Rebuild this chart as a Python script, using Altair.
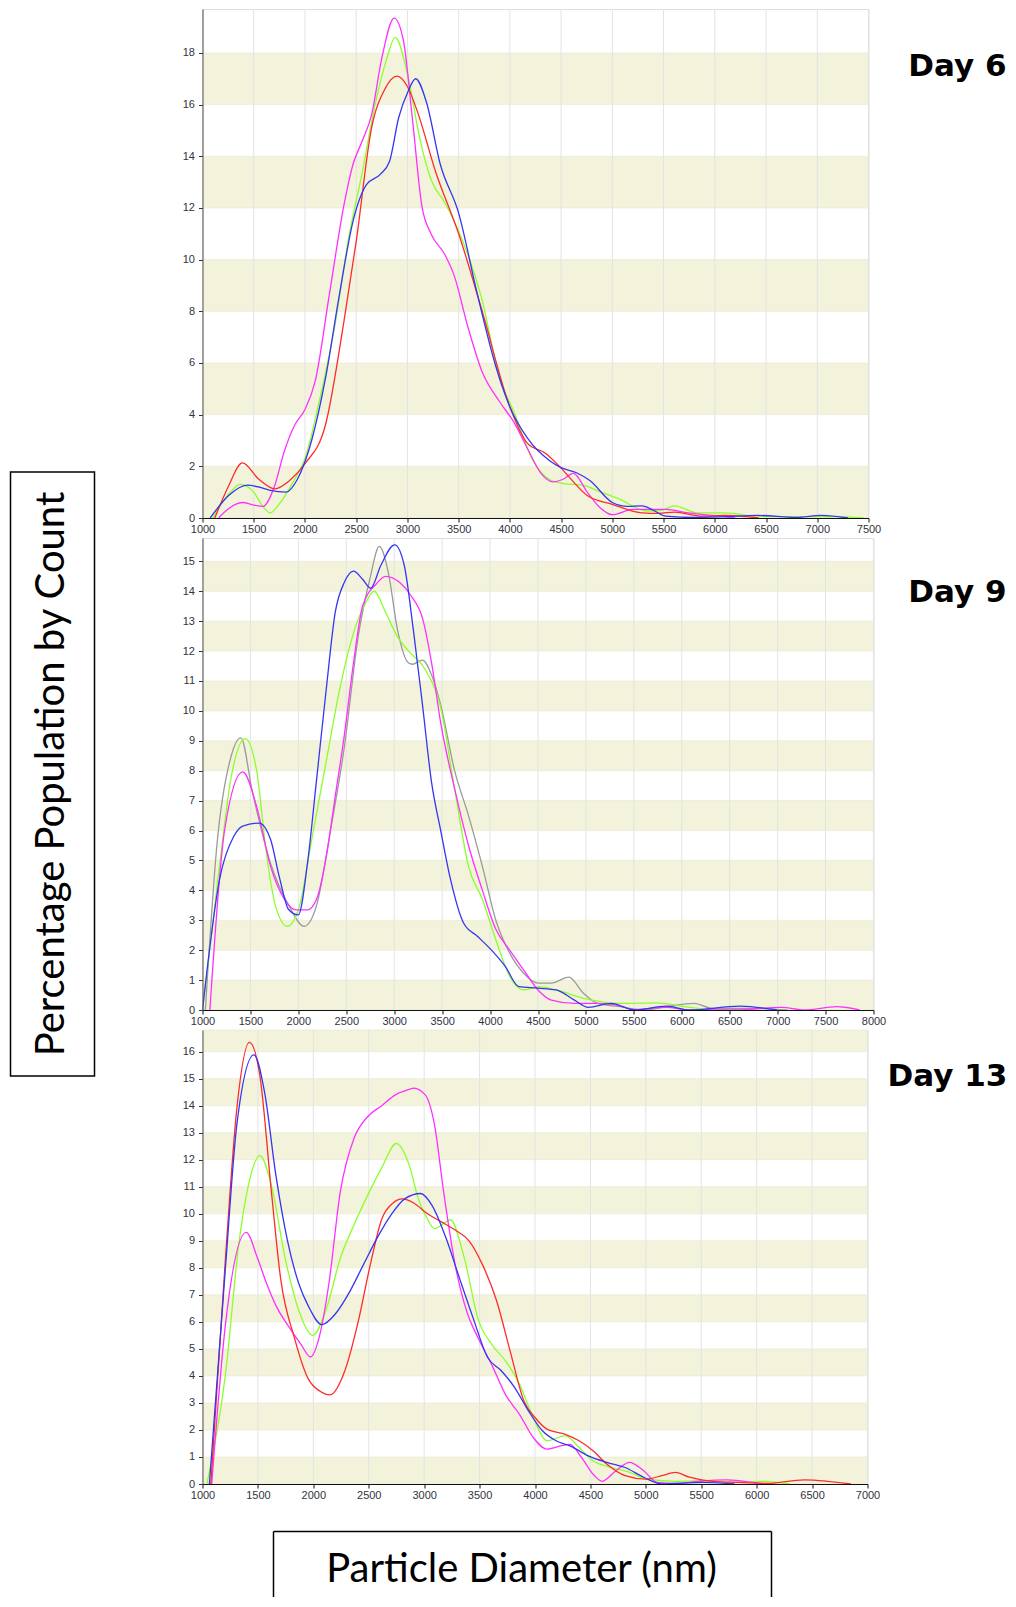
import altair as alt
import pandas as pd

# ---------------- Data ----------------
SERIES_NAMES = ["Green", "Gray", "Magenta", "Red", "Blue"]
SERIES_COLORS = ["#8CFF2A", "#9A9A9A", "#FF30FF", "#FF2A2A", "#3535F5"]

# Day 6
D6_RED_X = [1120, 1250, 1390, 1550, 1705, 1850, 2000, 2200, 2380, 2500, 2650, 2780, 2900, 3000, 3100, 3275, 3500, 3725, 4000, 4170, 4350, 4500, 4620, 4755, 5000, 5290, 5450, 5607, 5877, 6100, 6300, 6430]
D6_RED_Y = [0, 1.2, 2.13, 1.5, 1.13, 1.45, 2.1, 3.6, 7.6, 10.7, 15.1, 16.6, 17.1, 16.7, 15.7, 13.4, 11.0, 8.07, 4.3, 2.9, 2.5, 1.93, 1.4, 0.87, 0.53, 0.2, 0.18, 0.23, 0.07, 0.1, 0.05, 0]
D6_MAG_X = [1157, 1250, 1390, 1500, 1590, 1700, 1800, 1900, 2000, 2100, 2240, 2380, 2470, 2560, 2650, 2750, 2870, 2960, 3050, 3140, 3230, 3365, 3455, 3590, 3725, 3900, 4040, 4170, 4310, 4420, 4520, 4620, 4755, 4880, 5000, 5200, 5520, 5740, 5970, 6200]
D6_MAG_Y = [0, 0.35, 0.6, 0.5, 0.45, 1.2, 2.6, 3.6, 4.2, 5.3, 8.7, 12.1, 13.7, 14.6, 15.6, 17.8, 19.35, 18.5, 15.4, 12.1, 11.0, 10.2, 9.4, 7.4, 5.7, 4.5, 3.7, 2.7, 1.7, 1.4, 1.5, 1.73, 1.0, 0.4, 0.13, 0.33, 0.33, 0.2, 0.1, 0]
D6_GRN_X = [1100, 1250, 1370, 1500, 1580, 1660, 1760, 1885, 2000, 2150, 2290, 2420, 2560, 2690, 2800, 2880, 3005, 3120, 3230, 3365, 3500, 3725, 3900, 4040, 4215, 4395, 4530, 4710, 4890, 5070, 5340, 5480, 5607, 5830, 6100, 6415, 6860, 7180, 7450]
D6_GRN_Y = [0, 0.9, 1.3, 1.0, 0.5, 0.2, 0.6, 1.4, 2.3, 4.7, 7.4, 10.7, 13.4, 16.1, 17.8, 18.6, 17.1, 14.7, 13.1, 12.2, 11.1, 8.5, 5.4, 4.1, 2.3, 1.47, 1.33, 1.27, 1.0, 0.73, 0.27, 0.3, 0.47, 0.2, 0.2, 0.07, 0.05, 0.05, 0]
D6_BLU_X = [1075, 1255, 1435, 1550, 1660, 1815, 1930, 2065, 2200, 2330, 2470, 2600, 2735, 2825, 2915, 3005, 3080, 3185, 3320, 3500, 3680, 3860, 4000, 4170, 4395, 4500, 4650, 4780, 5000, 5150, 5290, 5400, 5520, 5800, 6100, 6415, 6800, 7040, 7300]
D6_BLU_Y = [0, 0.87, 1.27, 1.2, 1.07, 1.0, 1.53, 3.0, 5.4, 8.5, 11.5, 12.9, 13.3, 13.8, 15.5, 16.5, 17.0, 16.1, 13.7, 11.8, 8.7, 5.9, 4.3, 3.1, 2.2, 1.95, 1.75, 1.45, 0.6, 0.45, 0.47, 0.3, 0.07, 0.02, 0.05, 0.1, 0.02, 0.1, 0]

# Day 9
D9_GRY_X = [1030, 1150, 1300, 1400, 1520, 1710, 1900, 2060, 2190, 2335, 2480, 2625, 2745, 2845, 2940, 3035, 3150, 3190, 3295, 3390, 3485, 3630, 3775, 3920, 4060, 4205, 4350, 4500, 4640, 4820, 4975, 5120, 5360, 5600, 5840, 6130, 6320, 6800, 7100]
D9_GRY_Y = [0, 5.5, 8.5, 9.1, 7.3, 4.9, 3.5, 2.8, 3.5, 6.0, 8.8, 12.5, 14.4, 15.5, 14.6, 12.7, 11.6, 11.56, 11.7, 11.2, 10.2, 8.0, 6.5, 4.8, 3.0, 1.9, 1.23, 0.9, 0.9, 1.1, 0.56, 0.22, 0.11, 0.0, 0.11, 0.22, 0.05, 0.05, 0]
D9_GRN_X = [1000, 1180, 1300, 1445, 1565, 1660, 1760, 1885, 2000, 2145, 2290, 2430, 2575, 2700, 2790, 2910, 3030, 3150, 3320, 3485, 3630, 3775, 3920, 4060, 4205, 4350, 4500, 4690, 4975, 5360, 5745, 5985, 6300]
D9_GRN_Y = [0, 4.9, 7.8, 9.07, 8.0, 5.4, 3.5, 2.8, 3.35, 5.8, 8.3, 10.7, 12.6, 13.6, 14.0, 13.3, 12.5, 12.0, 11.4, 10.1, 7.4, 4.8, 3.7, 2.35, 1.12, 0.67, 0.78, 0.67, 0.39, 0.22, 0.24, 0.13, 0]
D9_MAG_X = [1077, 1230, 1420, 1565, 1710, 1855, 1975, 2095, 2190, 2290, 2385, 2480, 2575, 2670, 2815, 2910, 3055, 3175, 3295, 3390, 3485, 3630, 3775, 3920, 4060, 4205, 4350, 4500, 4640, 4880, 5120, 5310, 5505, 5840, 6080, 6560, 7040, 7280, 7615, 7855]
D9_MAG_Y = [0, 6.0, 7.96, 6.8, 4.8, 3.7, 3.35, 3.35, 3.7, 5.1, 7.15, 9.2, 11.6, 13.5, 14.25, 14.5, 14.3, 13.85, 13.1, 11.6, 9.6, 7.4, 5.5, 4.0, 2.7, 2.0, 1.34, 0.67, 0.33, 0.22, 0.22, 0.17, 0.02, 0.09, 0, 0, 0.09, 0, 0.11, 0]
D9_BLU_X = [1000, 1180, 1325, 1420, 1590, 1710, 1805, 1900, 2000, 2095, 2190, 2290, 2385, 2480, 2575, 2670, 2755, 2860, 3005, 3105, 3200, 3295, 3390, 3485, 3585, 3725, 3870, 4015, 4160, 4300, 4500, 4690, 4880, 5025, 5265, 5505, 5840, 6080, 6610, 6990]
D9_BLU_Y = [0, 4.4, 5.8, 6.15, 6.25, 5.7, 4.4, 3.35, 3.18, 4.9, 7.7, 10.7, 13.3, 14.3, 14.67, 14.4, 14.1, 14.86, 15.55, 14.86, 12.7, 10.2, 7.6, 6.0, 4.4, 2.9, 2.46, 2.0, 1.45, 0.78, 0.73, 0.67, 0.33, 0.09, 0.22, 0, 0.13, 0, 0.13, 0]

# Day 13
D13_RED_X = [1075, 1207, 1310, 1423, 1518, 1622, 1705, 1830, 1953, 2057, 2152, 2285, 2410, 2513, 2617, 2720, 2803, 2906, 3030, 3155, 3280, 3405, 3528, 3652, 3777, 3900, 4000, 4108, 4274, 4398, 4523, 4647, 4813, 5000, 5145, 5268, 5393, 5600, 5848, 6097, 6430, 6637, 6850]
D13_RED_Y = [0, 8.35, 13.9, 16.34, 15.1, 10.8, 7.6, 5.4, 3.9, 3.44, 3.3, 4.2, 6.1, 8.1, 9.8, 10.4, 10.55, 10.4, 10.0, 9.7, 9.4, 9.0, 8.1, 6.8, 4.9, 3.07, 2.46, 2.03, 1.84, 1.6, 1.23, 0.74, 0.31, 0.18, 0.31, 0.43, 0.25, 0.1, 0.06, 0.02, 0.15, 0.1, 0]
D13_BLU_X = [1062, 1207, 1310, 1464, 1560, 1663, 1767, 1870, 1953, 2078, 2200, 2326, 2450, 2575, 2700, 2824, 2968, 3072, 3197, 3320, 3445, 3570, 3694, 3818, 3942, 4067, 4190, 4315, 4481, 4647, 4813, 4980, 5145, 5518, 5800]
D13_BLU_Y = [0, 8.0, 13.3, 15.88, 14.5, 11.4, 9.0, 7.4, 6.6, 5.9, 6.3, 7.1, 8.1, 9.1, 9.95, 10.55, 10.75, 10.3, 9.1, 7.6, 6.1, 4.7, 4.2, 3.56, 2.7, 1.97, 1.6, 1.41, 1.04, 0.8, 0.61, 0.25, 0, 0.06, 0]
D13_GRN_X = [1040, 1207, 1331, 1414, 1518, 1622, 1746, 1870, 1995, 2119, 2243, 2368, 2492, 2617, 2748, 2865, 2948, 3030, 3093, 3238, 3363, 3487, 3611, 3735, 3860, 3984, 4108, 4274, 4398, 4523, 4688, 4854, 5020, 5268, 5518, 5766, 6056, 6300]
D13_GRN_Y = [0, 4.05, 9.0, 11.05, 12.15, 11.05, 8.35, 6.4, 5.5, 6.5, 8.35, 9.6, 10.7, 11.7, 12.6, 11.8, 10.55, 9.8, 9.45, 9.77, 8.35, 6.1, 5.16, 4.55, 3.7, 2.46, 1.6, 1.78, 1.35, 0.86, 0.61, 0.43, 0.18, 0.1, 0.12, 0.06, 0.1, 0]
D13_MAG_X = [1083, 1207, 1394, 1497, 1580, 1663, 1787, 1890, 1974, 2057, 2140, 2243, 2368, 2492, 2617, 2740, 2865, 2906, 3010, 3093, 3176, 3280, 3383, 3487, 3611, 3735, 3860, 3984, 4108, 4232, 4315, 4420, 4523, 4606, 4730, 4854, 4980, 5103, 5268, 5477, 5725, 5890, 6097]
D13_MAG_Y = [0, 5.9, 9.31, 8.35, 7.4, 6.6, 5.77, 5.16, 4.7, 5.5, 7.4, 10.8, 12.8, 13.6, 14.0, 14.4, 14.6, 14.65, 14.4, 13.3, 10.8, 8.1, 6.4, 5.4, 4.4, 3.3, 2.58, 1.72, 1.29, 1.41, 1.47, 0.98, 0.37, 0.1, 0.49, 0.8, 0.49, 0.06, 0.02, 0.1, 0.15, 0.1, 0]

# axis ticks / bands
D6_XTICKS = [1000, 1500, 2000, 2500, 3000, 3500, 4000, 4500, 5000, 5500, 6000, 6500, 7000, 7500]
D9_XTICKS = [1000, 1500, 2000, 2500, 3000, 3500, 4000, 4500, 5000, 5500, 6000, 6500, 7000, 7500, 8000]
D13_XTICKS = [1000, 1500, 2000, 2500, 3000, 3500, 4000, 4500, 5000, 5500, 6000, 6500, 7000]
D6_YTICKS = [0, 2, 4, 6, 8, 10, 12, 14, 16, 18]
D9_YTICKS = [0, 1, 2, 3, 4, 5, 6, 7, 8, 9, 10, 11, 12, 13, 14, 15]
D13_YTICKS = [0, 1, 2, 3, 4, 5, 6, 7, 8, 9, 10, 11, 12, 13, 14, 15, 16]
D6_BAND_LO = [0, 4, 8, 12, 16]
D6_BAND_HI = [2, 6, 10, 14, 18]
D9_BAND_LO = [0, 2, 4, 6, 8, 10, 12, 14]
D9_BAND_HI = [1, 3, 5, 7, 9, 11, 13, 15]
D13_BAND_LO = [0, 2, 4, 6, 8, 10, 12, 14, 16]
D13_BAND_HI = [1, 3, 5, 7, 9, 11, 13, 15, 16.8]

Y_TITLE = "Percentage Population by Count"
X_TITLE = "Particle Diameter (nm)"

BEIGE = "#F3F3DC"
LABEL_FONT = "Liberation Sans"


def long_frame(series):
    rows = []
    for name, xs, ys in series:
        for i, (x, y) in enumerate(zip(xs, ys)):
            rows.append({"x": x, "y": y, "s": name, "i": i})
    return pd.DataFrame(rows)


def panel(series, xdom, ydom, xticks, yticks, blo, bhi, w, h, day, day_xy, extra=()):
    xs = alt.Scale(domain=xdom, nice=False, zero=False)
    ys = alt.Scale(domain=ydom, nice=False, zero=False)
    x_axis = alt.Axis(values=xticks, format="d", labelFont=LABEL_FONT,
                      labelFontSize=11, labelColor="#333340", tickSize=4,
                      tickColor="#111", domainColor="#111", grid=False,
                      labelPadding=1, labelFlush=False, labelOverlap=False,
                      zindex=1, title=None)
    y_axis = alt.Axis(values=yticks, format="d", labelFont=LABEL_FONT,
                      labelFontSize=11, labelColor="#333340", tickSize=4,
                      tickColor="#333", domainColor="#555", grid=False,
                      labelPadding=4, labelOverlap=False, zindex=1, title=None)
    bands = alt.Chart(pd.DataFrame({"lo": blo, "hi": bhi})).mark_rect(
        color=BEIGE, stroke="#E8E8D0", strokeWidth=0.6
    ).encode(
        x=alt.value(0), x2=alt.value(w),
        y=alt.Y("lo:Q", scale=ys, axis=y_axis), y2="hi:Q",
    )
    grid = alt.Chart(pd.DataFrame({"t": xticks})).mark_rule(
        color="#E3E3E3", strokeWidth=1
    ).encode(
        x=alt.X("t:Q", scale=xs, axis=x_axis), y=alt.value(0), y2=alt.value(h)
    )
    lines = alt.Chart(long_frame(series)).mark_line(
        interpolate="monotone", strokeWidth=1.3, clip=True
    ).encode(
        x=alt.X("x:Q", scale=xs, axis=x_axis),
        y=alt.Y("y:Q", scale=ys, axis=y_axis),
        color=alt.Color("s:N", scale=alt.Scale(domain=SERIES_NAMES, range=SERIES_COLORS),
                        legend=None),
        order="i:Q",
    )
    label = alt.Chart(pd.DataFrame({"t": [day]})).mark_text(
        font="DejaVu Sans", fontWeight="bold", fontSize=31, color="#000",
        align="center", baseline="middle"
    ).encode(text="t:N", x=alt.value(day_xy[0]), y=alt.value(day_xy[1]))
    return alt.layer(bands, grid, lines, label, *extra).properties(width=w, height=h)


# Outer boxed titles
ybox = alt.Chart(pd.DataFrame({"a": [0]})).mark_rect(
    fillOpacity=0, stroke="#000", strokeWidth=1.5
).encode(x=alt.value(-192), x2=alt.value(-108), y=alt.value(-66), y2=alt.value(538))
ytext = alt.Chart(pd.DataFrame({"t": [Y_TITLE]})).mark_text(
    font="Lato", fontSize=40, angle=270, color="#000", align="center", baseline="middle"
).encode(text="t:N", x=alt.value(-151), y=alt.value(236))

XB_L, XB_R, XB_T, XB_B = 71, 569, 501.5, 600
xbox_l = alt.Chart(pd.DataFrame({"a": [0]})).mark_rule(color="#000", strokeWidth=1.5).encode(
    x=alt.value(XB_L), y=alt.value(XB_T), y2=alt.value(XB_B))
xbox_r = alt.Chart(pd.DataFrame({"a": [0]})).mark_rule(color="#000", strokeWidth=1.5).encode(
    x=alt.value(XB_R), y=alt.value(XB_T), y2=alt.value(XB_B))
xbox_t = alt.Chart(pd.DataFrame({"a": [0]})).mark_rule(color="#000", strokeWidth=1.5).encode(
    x=alt.value(XB_L), x2=alt.value(XB_R), y=alt.value(XB_T))
xtext = alt.Chart(pd.DataFrame({"t": [X_TITLE]})).mark_text(
    font="Lato", fontSize=40, color="#000", align="center", baseline="middle"
).encode(text="t:N", x=alt.value(319), y=alt.value(540))

p6 = panel(
    [("Green", D6_GRN_X, D6_GRN_Y), ("Magenta", D6_MAG_X, D6_MAG_Y),
     ("Red", D6_RED_X, D6_RED_Y), ("Blue", D6_BLU_X, D6_BLU_Y)],
    [1000, 7500], [0, 19.7], D6_XTICKS, D6_YTICKS, D6_BAND_LO, D6_BAND_HI,
    666, 509, "Day 6", (755, 58))
p9 = panel(
    [("Gray", D9_GRY_X, D9_GRY_Y), ("Green", D9_GRN_X, D9_GRN_Y),
     ("Magenta", D9_MAG_X, D9_MAG_Y), ("Blue", D9_BLU_X, D9_BLU_Y)],
    [1000, 8000], [0, 15.78], D9_XTICKS, D9_YTICKS, D9_BAND_LO, D9_BAND_HI,
    671, 472, "Day 9", (755, 54.5), extra=(ybox, ytext))
p13 = panel(
    [("Green", D13_GRN_X, D13_GRN_Y), ("Magenta", D13_MAG_X, D13_MAG_Y),
     ("Red", D13_RED_X, D13_RED_Y), ("Blue", D13_BLU_X, D13_BLU_Y)],
    [1000, 7000], [0, 16.8], D13_XTICKS, D13_YTICKS, D13_BAND_LO, D13_BAND_HI,
    665, 454, "Day 13", (745, 46.5), extra=(xbox_l, xbox_r, xbox_t, xtext))

# Fixed-size canvas: with autosize "none" the plot origin sits at (padding.left, padding.top)
chart = alt.vconcat(p6, p9, p13, spacing=20, bounds="flush").properties(
    autosize=alt.AutoSizeParams(type="none"),
    padding={"left": 194.5, "top": 1, "right": 805.5, "bottom": 1588}
).configure_view(strokeWidth=0, stroke=None).configure(background="white")

chart.save("out.html", embed_options={"renderer": "svg", "actions": False})
